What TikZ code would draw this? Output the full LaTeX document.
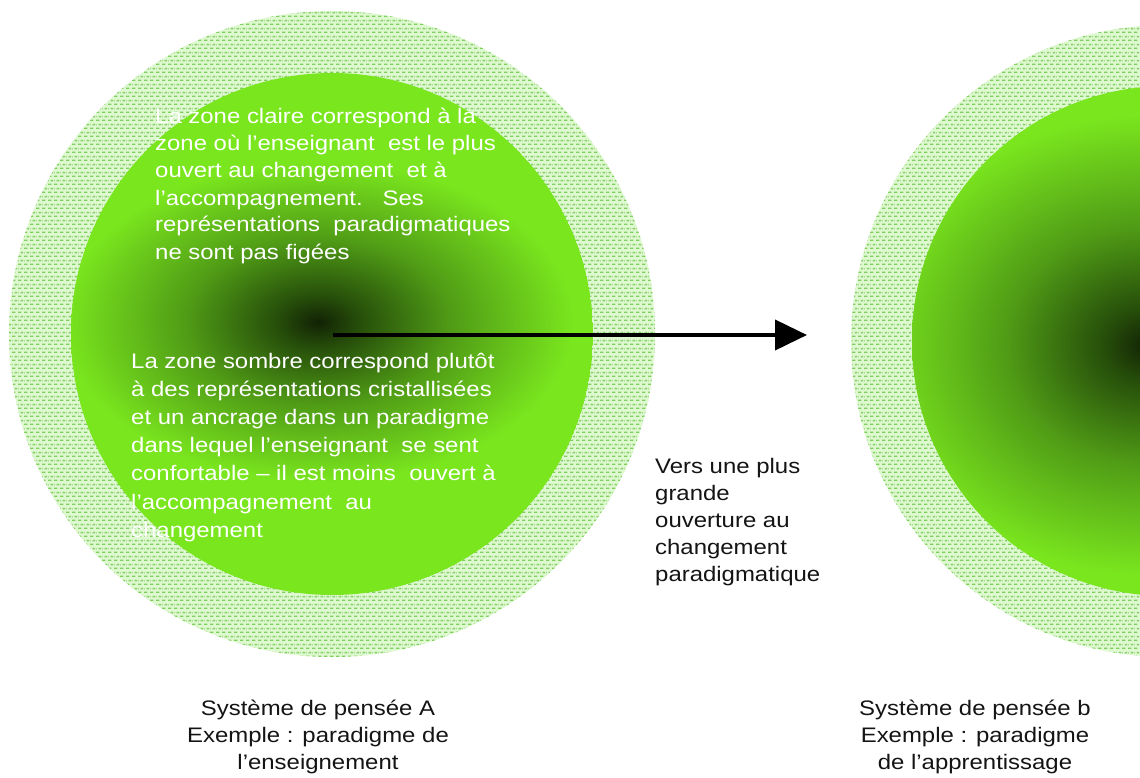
\documentclass[tikz,border=0pt]{standalone}
\usepackage{fontspec}
\setmainfont{Liberation Sans}[FakeStretch=1.14]
\usetikzlibrary{arrows.meta,patterns}

\definecolor{ringpale}{RGB}{222,248,208}
\definecolor{ringdot}{RGB}{128,206,96}
\definecolor{leaf}{RGB}{122,230,30}
\definecolor{leafmid}{RGB}{80,156,22}
\definecolor{leafdeep}{RGB}{38,78,10}
\definecolor{core}{RGB}{18,34,5}
\definecolor{ink}{RGB}{20,20,20}

% staggered rows of small dashes for the outer rings
\pgfdeclarepatternformonly{ringweave}{\pgfpointorigin}{\pgfpoint{6pt}{8pt}}{\pgfpoint{6pt}{8pt}}{%
  \pgfpathrectangle{\pgfpoint{0.2pt}{1.25pt}}{\pgfpoint{3.6pt}{1.5pt}}%
  \pgfpathrectangle{\pgfpoint{3.2pt}{5.25pt}}{\pgfpoint{2.8pt}{1.5pt}}%
  \pgfpathrectangle{\pgfpoint{0pt}{5.25pt}}{\pgfpoint{0.8pt}{1.5pt}}%
  \pgfusepath{fill}}

% dark core fading into the bright green disc
\pgfdeclareradialshading{coreglow}{\pgfpoint{0bp}{0bp}}{%
  color(0bp)=(core); color(4bp)=(leafdeep); color(13bp)=(leafmid);
  color(25bp)=(leaf); color(50bp)=(leaf)}

\tikzset{
  ring/.style={fill=ringpale, postaction={pattern=ringweave, pattern color=ringdot}},
  disc/.style={fill=leaf},
  intext/.style={text=white, font=\fontsize{21}{27}\selectfont, inner sep=0pt, anchor=base west},
  outtext/.style={text=ink, font=\fontsize{21}{27}\selectfont, inner sep=0pt, anchor=base west},
  caption/.style={text=ink, font=\fontsize{21}{27}\selectfont, inner sep=0pt, anchor=base},
  movearrow/.style={line width=4pt, -{Triangle[length=32pt, width=30pt]}}
}

\begin{document}
\begin{tikzpicture}[x=1pt, y=-1pt]
\useasboundingbox (0,0) rectangle (1140,778);
\fill[white] (0,0) rectangle (1140,778);

\begin{scope}
  \clip (0,0) rectangle (1140,778);

  % system A
  \path[ring] (332,334) circle[radius=323];
  \begin{scope}
    \clip (332,334) circle[radius=261];
    \path[disc] (332,334) circle[radius=261];
    \shade[shading=coreglow] (318,322) ellipse[x radius=255, y radius=160];
  \end{scope}

  % system b
  \path[ring] (1167,341) circle[radius=316];
  \begin{scope}
    \clip (1167,341) circle[radius=255];
    \path[disc] (1167,341) circle[radius=255];
    \shade[shading=coreglow] (1148,345) ellipse[x radius=275, y radius=230];
  \end{scope}
\end{scope}

% text inside system A
\foreach \t [count=\i] in {%
  {La zone claire correspond à la},
  {zone où l'enseignant\ \ est le plus},
  {ouvert au changement\ \ et à},
  {l'accompagnement.\ \ \ Ses},
  {représentations\ \ paradigmatiques},
  {ne sont pas figées}}
  \node[intext] (claire\i) at (155,{124+27*(\i-1)}) {\t};

\foreach \t [count=\i] in {%
  {La zone sombre correspond plutôt},
  {à des représentations cristallisées},
  {et un ancrage dans un paradigme},
  {dans lequel l'enseignant\ \ se sent},
  {confortable – il est moins\ \ ouvert à},
  {l'accompagnement\ \ au},
  {changement}}
  \node[intext] (sombre\i) at (131,{368+28.2*(\i-1)}) {\t};

% move from A towards b
\coordinate (movefrom) at (333,335);
\coordinate (moveto) at (807,335);
\draw[movearrow] (movefrom) -- (moveto);

\foreach \t [count=\i] in {%
  {Vers une plus},
  {grande},
  {ouverture au},
  {changement},
  {paradigmatique}}
  \node[outtext] (vers\i) at (655,{473+27*(\i-1)}) {\t};

% captions
\foreach \t [count=\i] in {%
  {Système de pensée A},
  {Exemple : paradigme de},
  {l'enseignement}}
  \node[caption] (capA\i) at (318,{715+27*(\i-1)}) {\t};

\foreach \t [count=\i] in {%
  {Système de pensée b},
  {Exemple : paradigme},
  {de l'apprentissage}}
  \node[caption] (capB\i) at (975,{715+27*(\i-1)}) {\t};
\end{tikzpicture}
\end{document}
